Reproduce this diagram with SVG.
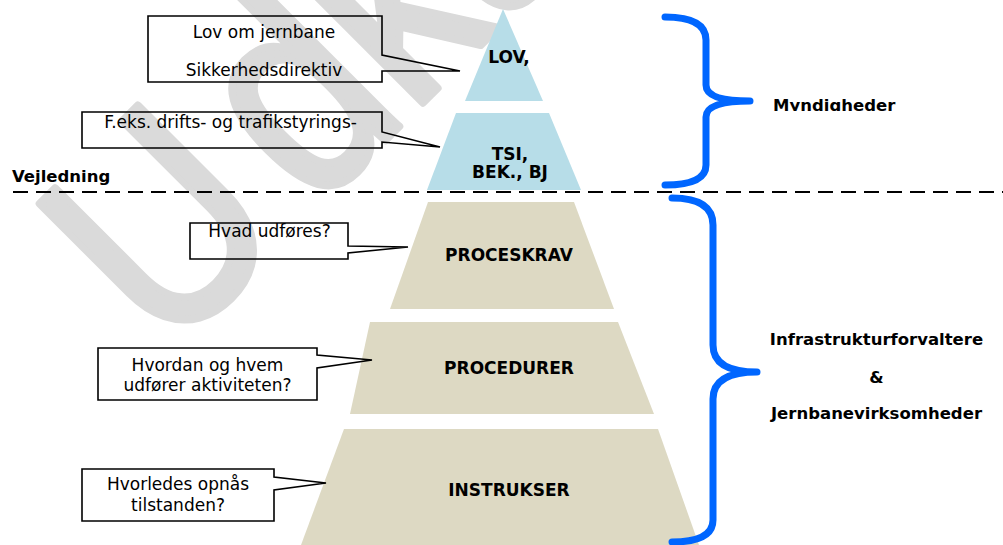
<svg xmlns="http://www.w3.org/2000/svg" width="1003" height="545" viewBox="0 0 1003 545">
  <style>
    .wm { font-family: "Liberation Sans", Arial, sans-serif; font-size: 290px; fill: #dadada; stroke: #dadada; stroke-width: 8; stroke-linejoin: round; }
    .call { fill: none; stroke: #000; stroke-width: 1.6; stroke-linejoin: miter; }
    .ct { font-family: "DejaVu Sans", Verdana, sans-serif; font-size: 17px; fill: #000; text-anchor: middle; }
    .lbl { font-family: "DejaVu Sans", Verdana, sans-serif; font-weight: bold; font-size: 17px; fill: #000; text-anchor: middle; }
    .side { font-family: "DejaVu Sans", Verdana, sans-serif; font-weight: bold; font-size: 16.5px; fill: #000; }
    .blue { fill: #b7dde8; }
    .beige { fill: #ddd9c3; }
    .brace { fill: none; stroke: #0066ff; stroke-width: 7; stroke-linecap: round; stroke-linejoin: round; }
  </style>
  <defs>
    <clipPath id="clipMyn"><rect x="760" y="80" width="200" height="31"/></clipPath>
  </defs>
  <rect width="1003" height="545" fill="#fff"/>
  <text class="wm" transform="translate(167,358.6) rotate(-45) scale(0.85,1)">U<tspan dx="35">dkast</tspan></text>

  <g id="level-lov">
    <polygon class="blue" points="503,9 465,101 543,101"/>
    <text class="lbl" x="509" y="63" font-size="16">LOV,</text>
  </g>
  <g id="level-tsi">
    <polygon class="blue" points="456,113 549,113 581,190 427,190"/>
    <text class="lbl" x="510" y="160">TSI,</text>
    <text class="lbl" x="510" y="178">BEK., BJ</text>
  </g>
  <g id="level-proceskrav">
    <polygon class="beige" points="428,202 574,202 614,309 390,309"/>
    <text class="lbl" x="509" y="261">PROCESKRAV</text>
  </g>
  <g id="level-procedurer">
    <polygon class="beige" points="370,322 618,322 654,414 350,414"/>
    <text class="lbl" x="509" y="374">PROCEDURER</text>
  </g>
  <g id="level-instrukser">
    <polygon class="beige" points="344,429 658,429 699,545 301,545"/>
    <text class="lbl" x="509" y="496">INSTRUKSER</text>
  </g>

  <g id="callout-lov">
    <path class="call" d="M148,16 H382 V55 L460,71 H382 V82 H148 Z"/>
    <text class="ct" x="264" y="38">Lov om jernbane</text>
    <text class="ct" x="264" y="76">Sikkerhedsdirektiv</text>
  </g>
  <g id="callout-tsi">
    <path class="call" d="M82,112 H382 V132 L440,147 L382,142 V148 H82 Z"/>
    <text class="ct" x="230.5" y="128" font-size="17.5">F.eks. drifts- og trafikstyrings-</text>
  </g>
  <g id="callout-proceskrav">
    <path class="call" d="M190,223 H348 V246 L408,247 L348,253 V259 H190 Z"/>
    <text class="ct" x="269.5" y="237" font-size="16">Hvad udføres?</text>
  </g>
  <g id="callout-procedurer">
    <path class="call" d="M98,348 H317 V355 L372,360 L317,368 V400 H98 Z"/>
    <text class="ct" x="207.5" y="371">Hvordan og hvem</text>
    <text class="ct" x="207.5" y="391">udfører aktiviteten?</text>
  </g>
  <g id="callout-instrukser">
    <path class="call" d="M82,469 H274 V477 L326,483 L274,490 V521 H82 Z"/>
    <text class="ct" x="178" y="490">Hvorledes opnås</text>
    <text class="ct" x="178" y="511">tilstanden?</text>
  </g>

  <g id="divider">
    <line x1="13" y1="192" x2="1003" y2="192" stroke="#000" stroke-width="2" stroke-dasharray="15 8"/>
    <text class="side" x="12" y="182">Vejledning</text>
  </g>

  <g id="brace-myndigheder">
    <path class="brace" d="M665,17 Q706,17 706,40 L706,85 Q706,101 750,101 Q706,101 706,117 L706,165 Q706,185 665,185"/>
    <text class="side" x="773" y="110.5" clip-path="url(#clipMyn)">Myndigheder</text>
  </g>
  <g id="brace-infra">
    <path class="brace" d="M672,198 Q713,198 713,225 L713,345 Q713,372 757,372 Q713,372 713,399 L713,520 Q713,542 672,542"/>
    <text class="side" x="876.5" y="345" text-anchor="middle" font-size="16.9">Infrastrukturforvaltere</text>
    <text class="side" x="876.5" y="383" text-anchor="middle" font-size="16.9">&amp;</text>
    <text class="side" x="876.5" y="419" text-anchor="middle" font-size="16.9">Jernbanevirksomheder</text>
  </g>
</svg>
